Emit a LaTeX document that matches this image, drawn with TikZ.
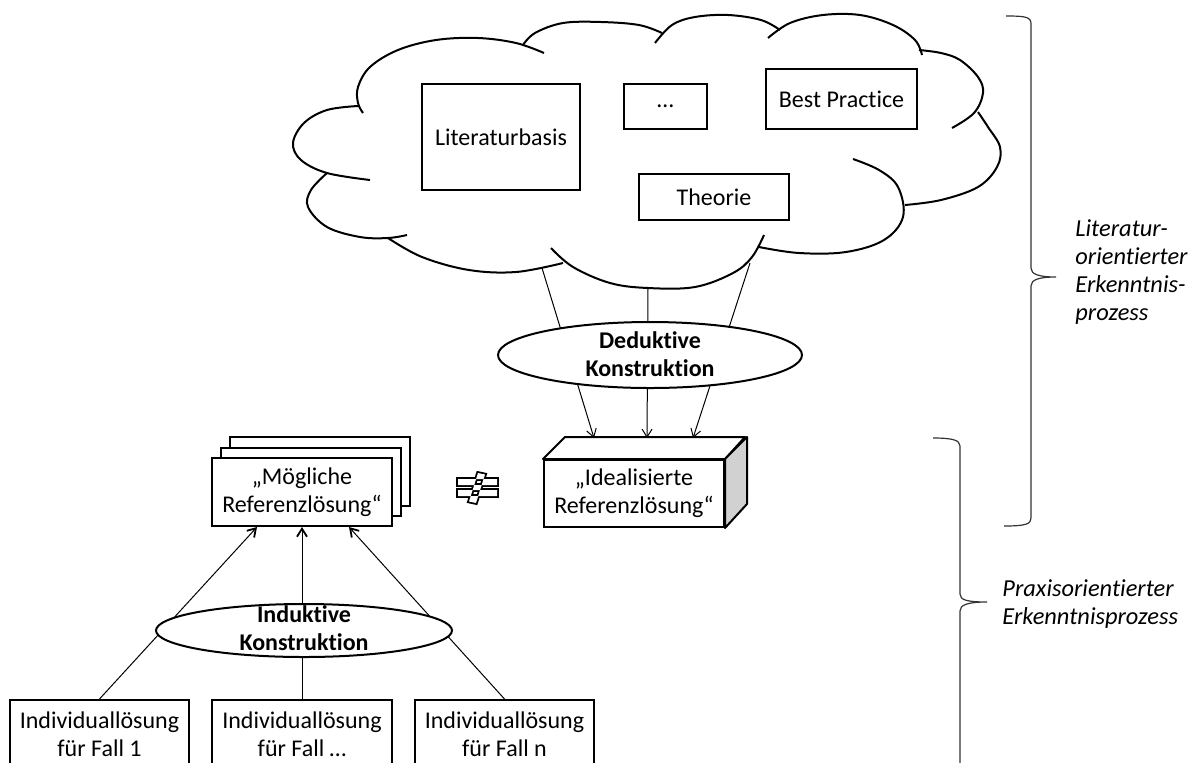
\documentclass[tikz,border=0pt]{standalone}
\usepackage{fontspec}
\setmainfont{Carlito}[Ligatures=NoCommon]
\usetikzlibrary{arrows.meta,shapes.geometric}
\begin{document}
\begin{tikzpicture}[x=0.5pt,y=-0.5pt,
  every node/.style={font=\fontsize{12}{13.8}\selectfont},
  box/.style={draw,line width=1pt,fill=white,align=center,inner sep=0pt},
  oval/.style={draw,ellipse,line width=1pt,fill=white,inner sep=0pt},
  ovaltext/.style={align=center,inner sep=0pt,font=\fontsize{12}{14}\selectfont\bfseries},
  side/.style={align=left,inner sep=0pt,font=\fontsize{12.2}{14}\selectfont\itshape},
  outline/.style={line width=1pt,line join=round},
  lobe/.style={line width=1pt},
  brace/.style={line width=0.6pt,draw=black!80},
  link/.style={line width=0.5pt},
  downarrow/.style={link,-{Straight Barb[length=4pt,width=5pt,line width=0.5pt]}},
  uparrow/.style={link,-{Straight Barb[length=4pt,width=5pt,line width=0.9pt]}}
]
\useasboundingbox (0,0) rectangle (1194,762);
\clip (0,0) rectangle (1194,762);

% ---- knowledge cloud, one arc per lobe ----
\draw[lobe] plot[smooth,tension=.6] coordinates {(358,106) (327,110) (304,123) (293,143) (301,160) (327,173) (370,180)};
\draw[lobe] plot[smooth,tension=.6] coordinates {(327,173) (311,190) (308,207) (327,227) (360,237) (388,238) (407,235)};
\draw[lobe] plot[smooth,tension=.6] coordinates {(388,238) (422,257) (469,270) (516,272) (563,263)};
\draw[lobe] plot[smooth,tension=.6] coordinates {(551,248) (573,267) (610,283) (648,288) (695,287) (733,273) (752,257) (764,235)};
\draw[lobe] plot[smooth,tension=.6] coordinates {(759,247) (799,253) (846,252) (884,240) (903,217) (898,187) (879,170) (853,159)};
\draw[lobe] plot[smooth,tension=.6] coordinates {(905,205) (941,200) (978,187) (997,167) (1000,147) (988,127) (978,112)};
\draw[lobe] plot[smooth,tension=.6] coordinates {(952,128) (974,113) (983,93) (978,77) (960,60) (941,53) (919,50)};
\draw[lobe] plot[smooth,tension=.6] coordinates {(922,55) (915,40) (893,25) (860,15) (823,15) (790,23) (768,38)};
\draw[lobe] plot[smooth,tension=.6] coordinates {(780,30) (761,20) (728,15) (695,17) (672,25) (655,43)};
\draw[lobe] plot[smooth,tension=.6] coordinates {(662,33) (639,25) (601,22) (563,23) (535,33) (523,45)};
\draw[lobe] plot[smooth,tension=.6] coordinates {(544,53) (516,43) (478,38) (436,40) (398,50) (370,67) (358,87) (358,103) (363,113)};

% ---- sources inside the cloud ----
\node[box,minimum width=79pt,minimum height=53pt] (lit) at (501,137) {Literaturbasis};
\node[box,minimum width=41.5pt,minimum height=22.5pt] (dots) at (665.5,106.5) {…};
\node[box,minimum width=75.5pt,minimum height=30pt] (best) at (841.5,99) {Best Practice};
\node[box,minimum width=75pt,minimum height=23pt] (theo) at (714,197) {Theorie};

% ---- idealised reference solution (3D block) ----
\node[box,minimum width=90pt,minimum height=33.5pt] (ideal) at (634,493.5) {„Idealisierte\\Referenzlösung“};
\draw[outline,fill=white] (ideal.north west) -- ++(22,-22) -- ++(180,0) -- (ideal.north east) -- cycle;
\draw[outline,fill=black!18] (ideal.north east) -- ++(22,-22) -- ++(0,67) -- (ideal.south east) -- cycle;

% ---- deductive construction ----
\coordinate (c1) at (542,268);
\coordinate (c2) at (648,288);
\coordinate (c3) at (750,263);
\coordinate (t1) at (594,438);
\coordinate (t2) at (647,438);
\coordinate (t3) at (693,438);
\draw[downarrow] (c1) -- (t1);
\draw[downarrow] (c2) -- (t2);
\draw[downarrow] (c3) -- (t3);
\node[oval,minimum width=152pt,minimum height=33pt] (ded) at (650,355) {};
\node[ovaltext] (dedt) at (650,354) {Deduktive\\Konstruktion};

% ---- possible reference solutions (stack) ----
\node[box,minimum width=90pt,minimum height=34.5pt] (mog3) at (320,471.5) {};
\node[box,minimum width=90pt,minimum height=34pt] (mog2) at (311,482) {};
\node[box,minimum width=90pt,minimum height=34pt] (mog) at (302,492) {„Mögliche\\Referenzlösung“};

% ---- not-equal sign: outline of two bars and a slanted stroke ----
\draw[line width=1.8pt,line join=miter]
  (458,479) rectangle (497,485)
  (458,490) rectangle (497,496)
  (478,473) -- (485,474.5) -- (476,503) -- (469,501.5) -- cycle;
\fill[white]
  (458,479) rectangle (497,485)
  (458,490) rectangle (497,496)
  (478,473) -- (485,474.5) -- (476,503) -- (469,501.5) -- cycle;

% ---- individual solutions ----
\node[box,minimum width=89.5pt,minimum height=34pt] (b1) at (99.5,734) {Individuallösung\\für Fall 1};
\node[box,minimum width=90pt,minimum height=34pt] (b2) at (302,734) {Individuallösung\\für Fall …};
\node[box,minimum width=89.5pt,minimum height=34pt] (b3) at (504.5,734) {Individuallösung\\für Fall n};

% ---- inductive construction ----
\coordinate (m1) at (257,527);
\coordinate (m2) at (302,527);
\coordinate (m3) at (349,527);
\draw[uparrow] (b1.north) -- (m1);
\draw[uparrow] (b2.north) -- (m2);
\draw[uparrow] (b3.north) -- (m3);
\node[oval,minimum width=148pt,minimum height=26.5pt] (ind) at (304,630.5) {};
\node[ovaltext] (indt) at (304,628.5) {Induktive\\Konstruktion};

% ---- braces and process labels ----
\draw[brace] (1006,16) .. controls (1026,16) and (1031,17) .. (1031,24) -- (1031,268)
  .. controls (1031,274) and (1038,277) .. (1056,277)
  .. controls (1038,277) and (1031,280) .. (1031,286) -- (1031,518)
  .. controls (1031,524) and (1026,526) .. (1004,526);
\node[side,anchor=west] (lit-label) at (1075,272) {Literatur-\\orientierter\\Erkenntnis-\\prozess};

\draw[brace] (933,438) .. controls (952,438) and (960,440) .. (960,446) -- (960,594)
  .. controls (960,600) and (967,602) .. (987,602)
  .. controls (967,602) and (960,605) .. (960,611) -- (960,770);
\node[side,anchor=west] (prax-label) at (1002,604) {Praxisorientierter\\Erkenntnisprozess};
\end{tikzpicture}
\end{document}
